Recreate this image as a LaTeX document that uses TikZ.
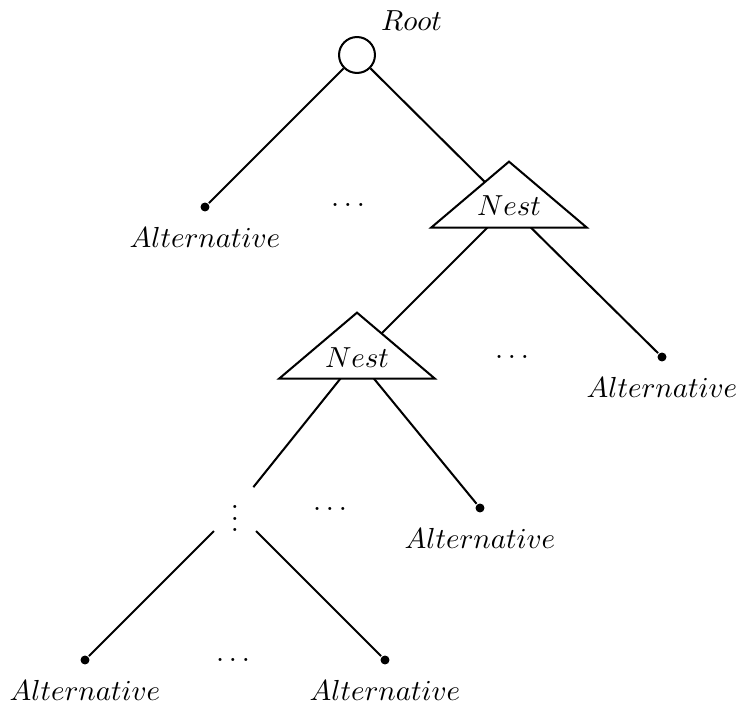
\documentclass[tikz,border=0pt]{standalone}
\usetikzlibrary{shapes.geometric,backgrounds}
\newcommand{\spreaddots}{.\kern1.67pt.\kern1.67pt.}
\begin{document}
\begin{tikzpicture}[x=0.345pt,y=-0.345pt,line width=0.7pt,
  rootnode/.style={circle,draw,inner sep=0pt,minimum size=12.4pt},
  leaf/.style={circle,fill,inner sep=0pt,minimum size=3.1pt,
    label={[label distance=1.5pt]below:$Alternative$}},
  nestbox/.style={isosceles triangle,shape border rotate=90,
    isosceles triangle stretches,draw,fill=white,inner sep=0pt,
    minimum width=53.8pt,minimum height=22.8pt,anchor=apex},
  more/.style={inner sep=0pt},
  vmore/.style={inner sep=0pt,minimum width=13.8pt},
  branch/.style={draw,line width=0.7pt}]
\useasboundingbox (0,0) rectangle (738,704);

% root of the tree
\node[rootnode,label={above right:$Root$}] (root) at (357,55) {};

% first level
\node[leaf] (a1) at (205,207) {};
\node[more] (d1) at (348,205) {\spreaddots};
\node[nestbox] (n1) at (509,159) {};
\node (t1) at (509,206) {$Nest$};

% second level
\node[nestbox] (n2) at (357,310) {};
\node (t2) at (357,358) {$Nest$};
\node[more] (d2) at (512,357) {\spreaddots};
\node[leaf] (a2) at (662,357) {};

% third level
\node[vmore] (vd) at (235,510) {$\vdots$};
\node[more] (d3) at (330,509) {\spreaddots};
\node[leaf] (a3) at (480,508) {};

% bottom level
\node[leaf] (a4) at (85,660) {};
\node[more] (d4) at (233,660) {\spreaddots};
\node[leaf] (a5) at (385,660) {};

% branches, kept behind the nest triangles
\begin{scope}[on background layer]
  \path[branch] (root) -- (a1);
  \path[branch] (root) -- (t1.center);
  \path[branch] (t1.center) -- (t2.center);
  \path[branch] (t1.center) -- (a2);
  \path[branch] (t2.center) -- (vd);
  \path[branch] (t2.center) -- (a3);
  \path[branch] (vd) -- (a4);
  \path[branch] (vd) -- (a5);
\end{scope}
\end{tikzpicture}
\end{document}
